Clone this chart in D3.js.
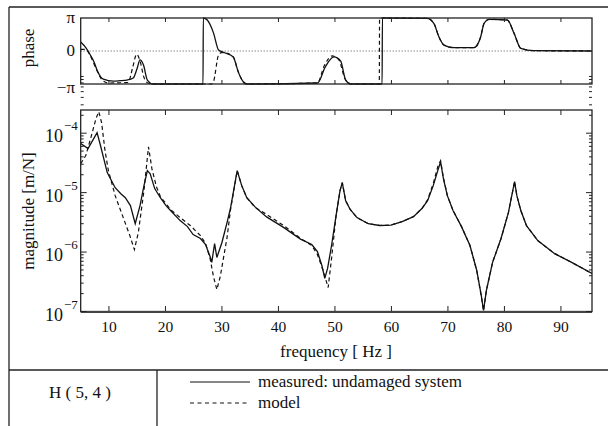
<!DOCTYPE html>
<html>
<head>
<meta charset="utf-8">
<script src="https://cdn.jsdelivr.net/npm/d3@7"></script>
<style>
  body { margin: 0; background: #fff; }
  svg text { font-family: "Liberation Serif", Tinos, "Times New Roman", "DejaVu Serif", serif; fill: #111; }
</style>
</head>
<body>
<svg id="chart" width="608" height="426"></svg>
<script>
// magnitude, measured (undamaged system)
var freqMeasured = [5, 6.3, 7.1, 7.9, 8.5, 9.7, 11.1, 12.1, 12.9, 13.8, 14.65, 15.5, 16.2, 16.8, 17.3, 18.1,
  19.1, 20.1, 20.9, 22.6, 23.9, 24.9, 26.2, 27.1, 27.9, 28.2, 28.7, 29.1, 30.0, 30.9, 31.5, 32.7, 33.5, 34.4,
  35.9, 37.9, 40.9, 43.9, 45.9, 46.9, 47.7, 48.2, 48.7, 49.4, 50.2, 50.9, 51.3, 51.9, 52.7, 53.9, 55.9,
  57.9, 59.9, 61.9, 63.9, 65.4, 66.4, 67.4, 68.2, 68.7, 69.2, 69.9, 70.9, 72.4, 73.9, 75.1, 75.9, 76.3,
  76.8, 77.9, 79.4, 80.7, 81.3, 81.8, 82.2, 82.9, 83.9, 85.9, 88.9, 91.9, 95.5];
var magMeasured = [6.7e-5, 5.5e-5, 7.5e-5, 1.02e-4, 6.2e-5, 2.17e-5, 1.21e-5, 9.6e-6, 8.2e-6, 6.05e-6, 3.0e-6,
  6.05e-6, 1.31e-5, 2.35e-5, 2.08e-5, 1.17e-5, 8.2e-6, 6.05e-6, 5.0e-6, 3.38e-6, 2.68e-6, 1.97e-6, 1.69e-6,
  1.34e-6, 8.4e-7, 6.7e-7, 1.39e-6, 8.1e-7, 1.45e-6, 3.13e-6, 5.4e-6, 2.35e-5, 1.31e-5, 8.2e-6, 5.7e-6,
  3.9e-6, 2.6e-6, 1.65e-6, 1.34e-6, 1.02e-6, 5.9e-7, 3.6e-7, 5.3e-7, 1.29e-6, 4.1e-6, 1.08e-5, 1.47e-5,
  7.3e-6, 5.2e-6, 3.8e-6, 3.0e-6, 2.8e-6, 2.85e-6, 3.26e-6, 3.95e-6, 5.4e-6, 7.3e-6, 1.31e-5, 2.35e-5,
  3.3e-5, 1.72e-5, 8.9e-6, 5.0e-6, 2.68e-6, 1.29e-6, 4.9e-7, 1.86e-7, 1.04e-7, 2.25e-7, 6.7e-7, 1.69e-6,
  4.6e-6, 8.9e-6, 1.53e-5, 8.9e-6, 5.0e-6, 2.79e-6, 1.56e-6, 9.4e-7, 6.7e-7, 4.35e-7];

// magnitude, model
var freqModel = [5, 5.9, 6.9, 7.7, 8.2, 8.7, 9.3, 9.9, 11.1, 12.4, 13.7, 14.5, 15.2, 16.2, 17.0, 17.6, 18.4,
  19.1, 20.9, 22.6, 24.4, 26.2, 27.1, 27.9, 28.5, 29.1, 29.7, 30.9, 31.5, 32.7, 33.5, 34.4, 35.9, 37.9, 40.9,
  43.9, 45.9, 46.9, 47.9, 48.8, 49.4, 50.2, 50.9, 51.3, 51.9, 52.7, 53.9, 55.9, 57.9, 59.9, 61.9, 63.9, 65.4,
  66.4, 67.4, 68.2, 68.7, 69.2, 69.9, 70.9, 72.4, 73.9, 75.1, 75.9, 76.3, 76.8, 77.9, 79.4, 80.7, 81.3, 81.8,
  82.2, 82.9, 83.9, 85.9, 88.9, 91.9, 95.5];
var magModel = [3.07e-5, 4.2e-5, 9.1e-5, 1.75e-4, 2.3e-4, 1.5e-4, 5.1e-5, 2.35e-5, 8.9e-6, 4.1e-6, 1.89e-6,
  1.1e-6, 2.13e-6, 1.08e-5, 5.9e-5, 2.53e-5, 1.26e-5, 8.6e-6, 5.2e-6, 3.8e-6, 2.79e-6, 1.89e-6, 1.39e-6,
  7.8e-7, 3.87e-7, 2.34e-7, 3.87e-7, 1.75e-6, 5.0e-6, 2.35e-5, 1.31e-5, 8.2e-6, 5.6e-6, 4.3e-6, 2.8e-6,
  1.7e-6, 1.29e-6, 9.1e-7, 4.9e-7, 2.53e-7, 7.8e-7, 4.1e-6, 1.08e-5, 1.47e-5, 7.3e-6, 5.2e-6, 3.8e-6,
  3.0e-6, 2.8e-6, 2.85e-6, 3.26e-6, 3.95e-6, 5.4e-6, 7.6e-6, 1.42e-5, 2.73e-5, 3.45e-5, 1.78e-5, 8.9e-6,
  5.0e-6, 2.68e-6, 1.29e-6, 4.9e-7, 1.8e-7, 1.04e-7, 2.25e-7, 6.7e-7, 1.69e-6, 4.6e-6, 8.9e-6, 1.53e-5,
  8.9e-6, 5.0e-6, 2.79e-6, 1.56e-6, 9.4e-7, 6.7e-7, 4.35e-7];

// phase in units of pi
var freqPhaseMeasured = [5, 5.9, 6.7, 7.4, 7.9, 9.0, 10.8, 11.9, 13.2, 14.3, 15.0, 15.5, 16.1, 16.8, 17.8,
  26.65, 26.7, 27.4, 28.5, 29.4, 30.6, 32.0, 32.9, 33.8, 34.4, 46.9, 48.3, 49.8, 51.0, 51.9, 52.8, 58.35,
  58.4, 66.3, 67.5, 68.4, 69.3, 71.1, 74.6, 75.8, 76.4, 77.3, 80.5, 81.7, 82.9, 85.2, 95.5];
var phaseMeasured = [0.27, 0.1, -0.12, -0.35, -0.58, -0.85, -0.91, -0.9, -0.88, -0.82, -0.52, -0.27, -0.42,
  -0.88, -1, -1, 1, 0.94, 0.55, 0.03, -0.06, -0.18, -0.64, -0.94, -1, -0.97, -0.48, -0.18, -0.3, -0.88, -1,
  -1, 1, 0.99, 0.84, 0.43, 0.18, 0.1, 0.1, 0.43, 0.84, 0.96, 0.94, 0.54, 0.08, 0.01, 0];

var freqPhaseModel = [5, 5.9, 6.7, 7.9, 8.9, 9.9, 13.4, 14.2, 14.9, 15.5, 16.2, 16.9, 17.8, 28.1, 28.5, 29.4,
  29.9, 30.6, 32.0, 32.9, 33.8, 34.4, 46.9, 48.1, 49.5, 50.7, 51.8, 52.8, 57.85, 57.9, 66.3, 67.5, 68.4,
  69.3, 71.1, 74.6, 75.8, 76.4, 77.3, 80.5, 81.7, 82.9, 85.2, 95.5];
var phaseModel = [0.05, 0.05, -0.15, -0.6, -0.9, -0.97, -0.95, -0.5, -0.1, -0.3, -0.8, -0.97, -1, -1, -0.93,
  -0.12, -0.05, -0.06, -0.18, -0.64, -0.94, -1, -0.97, -0.45, -0.15, -0.27, -0.85, -1, -1, 1, 0.99, 0.84,
  0.43, 0.18, 0.1, 0.1, 0.43, 0.84, 0.96, 0.94, 0.54, 0.08, 0.01, 0];

var freqTicks = [10, 20, 30, 40, 50, 60, 70, 80, 90];
var phaseTicks = [-1, 0, 1];
var phaseTickLabels = ["\u2212\u03c0", "0", "\u03c0"];
var magDecades = [-7, -6, -5, -4];

var svg = d3.select("#chart");
var L = 80.7, R = 592;

var x = d3.scaleLinear().domain([5, 95.5]).range([L, R]);
var yPh = d3.scaleLinear().domain([-1, 1]).range([84, 18]);
var yMag = d3.scaleLog().domain([1e-7, Math.pow(10, -3.61)]).range([311.5, 110]);

// outer frame
var frame = svg.append("g").attr("stroke", "#222").attr("stroke-width", 1.3);
frame.append("line").attr("x1", 9).attr("x2", 608).attr("y1", 7).attr("y2", 7);
frame.append("line").attr("x1", 9).attr("x2", 9).attr("y1", 7).attr("y2", 426);
frame.append("line").attr("x1", 9).attr("x2", 608).attr("y1", 370).attr("y2", 370);
frame.append("line").attr("x1", 157).attr("x2", 157).attr("y1", 370).attr("y2", 426);

var defs = svg.append("defs");
defs.append("clipPath").attr("id", "clipPh").append("rect")
  .attr("x", L).attr("y", 17).attr("width", R - L).attr("height", 68);
defs.append("clipPath").attr("id", "clipMag").append("rect")
  .attr("x", L).attr("y", 110).attr("width", R - L).attr("height", 202);

// ---- phase panel
var ph = svg.append("g");
ph.append("line")
  .attr("x1", L).attr("x2", R).attr("y1", yPh(0)).attr("y2", yPh(0))
  .attr("stroke", "#555").attr("stroke-width", 1).attr("stroke-dasharray", "1,2");

var phLine = d3.line()
  .x(function(d) { return x(d[0]); })
  .y(function(d) { return yPh(d[1]); })
  .curve(d3.curveMonotoneX);
ph.append("path")
  .attr("d", phLine(d3.zip(freqPhaseModel, phaseModel)))
  .attr("clip-path", "url(#clipPh)")
  .attr("fill", "none").attr("stroke", "#111").attr("stroke-width", 1.2)
  .attr("stroke-dasharray", "4,3");
ph.append("path")
  .attr("d", phLine(d3.zip(freqPhaseMeasured, phaseMeasured)))
  .attr("clip-path", "url(#clipPh)")
  .attr("fill", "none").attr("stroke", "#111").attr("stroke-width", 1.3);

ph.append("rect")
  .attr("x", L).attr("y", yPh(1)).attr("width", R - L).attr("height", yPh(-1) - yPh(1))
  .attr("fill", "none").attr("stroke", "#222").attr("stroke-width", 1.3);

freqTicks.forEach(function(f) {
  ph.append("line").attr("x1", x(f)).attr("x2", x(f)).attr("y1", yPh(1)).attr("y2", yPh(1) + 4)
    .attr("stroke", "#222");
  ph.append("line").attr("x1", x(f)).attr("x2", x(f)).attr("y1", yPh(-1)).attr("y2", yPh(-1) - 4)
    .attr("stroke", "#222");
});
phaseTicks.forEach(function(p, i) {
  ph.append("text")
    .attr("x", 75).attr("y", yPh(p) + (p === -1 ? 9 : 5))
    .attr("text-anchor", "end").attr("font-size", 17)
    .text(phaseTickLabels[i]);
});
ph.append("text")
  .attr("transform", "translate(34,48) rotate(-90)")
  .attr("text-anchor", "middle").attr("font-size", 17)
  .text("phase");

// ---- magnitude panel
var mg = svg.append("g");
var magLine = d3.line().x(function(d) { return x(d[0]); }).y(function(d) { return yMag(d[1]); });
mg.append("path")
  .attr("d", magLine(d3.zip(freqModel, magModel)))
  .attr("clip-path", "url(#clipMag)")
  .attr("fill", "none").attr("stroke", "#111").attr("stroke-width", 1.2)
  .attr("stroke-dasharray", "4,3");
mg.append("path")
  .attr("d", magLine(d3.zip(freqMeasured, magMeasured)))
  .attr("clip-path", "url(#clipMag)")
  .attr("fill", "none").attr("stroke", "#111").attr("stroke-width", 1.3);

mg.append("rect")
  .attr("x", L).attr("y", 110).attr("width", R - L).attr("height", 201.5)
  .attr("fill", "none").attr("stroke", "#222").attr("stroke-width", 1.3);
mg.append("line").attr("x1", L).attr("x2", R).attr("y1", 312).attr("y2", 312)
  .attr("stroke", "#444").attr("stroke-width", 2);

freqTicks.forEach(function(f) {
  mg.append("line").attr("x1", x(f)).attr("x2", x(f)).attr("y1", 110).attr("y2", 115)
    .attr("stroke", "#222");
  mg.append("line").attr("x1", x(f)).attr("x2", x(f)).attr("y1", 311).attr("y2", 306)
    .attr("stroke", "#222");
  mg.append("text")
    .attr("x", x(f)).attr("y", 332)
    .attr("text-anchor", "middle").attr("font-size", 15.5)
    .text(f);
});

// log ticks, major and minor, on both sides
var top = yMag.domain()[1];
magDecades.forEach(function(d) {
  for (var k = 1; k <= 9; k++) {
    var v = k * Math.pow(10, d);
    if (v > top) break;
    var len = k === 1 ? 6 : 3;
    mg.append("line").attr("x1", L).attr("x2", L + len).attr("y1", yMag(v)).attr("y2", yMag(v))
      .attr("stroke", "#222");
    mg.append("line").attr("x1", R).attr("x2", R - len).attr("y1", yMag(v)).attr("y2", yMag(v))
      .attr("stroke", "#222");
  }
  var yy = yMag(Math.pow(10, d));
  mg.append("text").attr("x", 63).attr("y", yy + 9)
    .attr("text-anchor", "end").attr("font-size", 18).text("10");
  mg.append("text").attr("x", 64).attr("y", yy - 3)
    .attr("font-size", 13).text("\u2212" + (-d));
});

mg.append("text")
  .attr("transform", "translate(34,211) rotate(-90)")
  .attr("text-anchor", "middle").attr("font-size", 17)
  .text("magnitude [m/N]");
mg.append("text")
  .attr("x", 336).attr("y", 357)
  .attr("text-anchor", "middle").attr("font-size", 17)
  .text("frequency [ Hz ]");

// ---- bottom caption and legend
svg.append("text").attr("x", 80).attr("y", 398)
  .attr("text-anchor", "middle").attr("font-size", 17).text("H ( 5, 4 )");

var lg = svg.append("g");
lg.append("line").attr("x1", 190).attr("x2", 250).attr("y1", 382).attr("y2", 382)
  .attr("stroke", "#111").attr("stroke-width", 1);
lg.append("line").attr("x1", 190).attr("x2", 250).attr("y1", 403).attr("y2", 403)
  .attr("stroke", "#111").attr("stroke-width", 1).attr("stroke-dasharray", "4,3.5");
lg.append("text").attr("x", 258).attr("y", 387).attr("font-size", 17)
  .text("measured: undamaged system");
lg.append("text").attr("x", 258).attr("y", 408).attr("font-size", 17)
  .text("model");
</script>
</body>
</html>
